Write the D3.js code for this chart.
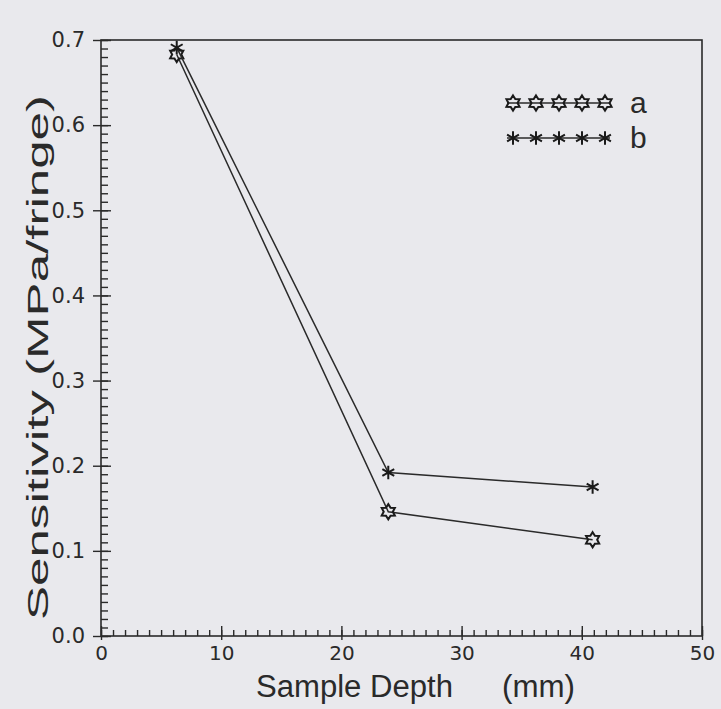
<!DOCTYPE html>
<html>
<head>
<meta charset="utf-8">
<script src="https://cdn.jsdelivr.net/npm/d3@7"></script>
<style>
	body { margin: 0; background: #e9e9ed; }
	svg { display: block; }
	text { font-family: 'DejaVu Sans', 'Liberation Sans', sans-serif; fill: #2a2a2a; }
	text.title { font-family: 'Liberation Sans', Arial, sans-serif; }
	.axis path, .axis line { stroke: #2a2a2a; stroke-width: 1.4px; }
	.axis .domain { display: none; }
</style>
</head>
<body>
<svg id="chart"></svg>
<script>
'use strict';
//Chart data.
const depths = [6.3, 23.9, 40.9]; //Sample depth (mm).
const seriesA = [0.683, 0.146, 0.113]; //Sensitivity, series a.
const seriesB = [0.691, 0.192, 0.175]; //Sensitivity, series b.
const seriesNames = ['a', 'b'];
const xTicks = [0, 10, 20, 30, 40, 50];
const yTicks = [0.0, 0.1, 0.2, 0.3, 0.4, 0.5, 0.6, 0.7];

const W = 721, H = 709;
const svg = d3.select('#chart').attr('width', W).attr('height', H);

//Plot frame in pixels.
const pL = 101, pR = 702, pT = 40, pB = 636;
const x = d3.scaleLinear().domain([0, 50]).range([pL, pR]);
const y = d3.scaleLinear().domain([0, 0.7]).range([pB, pT]);

//Minor ticks (inside) on the x axis.
svg.append('g')
	.attr('class', 'axis')
	.attr('transform', `translate(0,${pB})`)
	.call(d3.axisTop(x).tickValues(d3.range(0, 51, 1)).tickSize(6).tickFormat(''));
//Major ticks with labels.
svg.append('g')
	.attr('class', 'axis')
	.attr('transform', `translate(0,${pB})`)
	.call(d3.axisTop(x).tickValues(xTicks).tickSize(10).tickFormat(''));
svg.append('g')
	.attr('class', 'axis xlab')
	.attr('transform', `translate(0,${pB})`)
	.call(d3.axisBottom(x).tickValues(xTicks).tickSize(4).tickPadding(6).tickFormat(d3.format('d')))
	.selectAll('text')
	.style('font-size', '20px');

//Y axis: minor ticks inside, major ticks cross the axis.
svg.append('g')
	.attr('class', 'axis')
	.attr('transform', `translate(${pL},0)`)
	.call(d3.axisRight(y).tickValues(d3.range(0, 71, 1).map(d => d / 100)).tickSize(7).tickFormat(''));
svg.append('g')
	.attr('class', 'axis')
	.attr('transform', `translate(${pL},0)`)
	.call(d3.axisRight(y).tickValues(yTicks).tickSize(10).tickFormat(''));
svg.append('g')
	.attr('class', 'axis ylab')
	.attr('transform', `translate(${pL},0)`)
	.call(d3.axisLeft(y).tickValues(yTicks).tickSize(8).tickPadding(8).tickFormat(d3.format('.1f')))
	.selectAll('text')
	.style('font-size', '21px');

//Frame.
svg.append('rect')
	.attr('x', pL)
	.attr('y', pT)
	.attr('width', pR - pL)
	.attr('height', pB - pT)
	.style('fill', 'none')
	.style('stroke', '#2a2a2a')
	.style('stroke-width', '1.6px');

//Marker shapes: a = six-pointed star outline, b = asterisk.
const starA = {
	draw(ctx, size) {
		const r = Math.sqrt(size) * 0.62, ri = r * 0.6;
		for (let i = 0; i < 12; i++) {
			const ang = -Math.PI / 2 + i * Math.PI / 6;
			const rr = i % 2 ? ri : r;
			const px = rr * Math.cos(ang), py = rr * Math.sin(ang);
			i ? ctx.lineTo(px, py) : ctx.moveTo(px, py);
		}
		ctx.closePath();
	}
};
const asteriskB = {
	draw(ctx, size) {
		const r = Math.sqrt(size) * 0.6;
		for (let i = 0; i < 3; i++) {
			const ang = Math.PI / 2 + i * Math.PI / 3;
			ctx.moveTo(r * Math.cos(ang), r * Math.sin(ang));
			ctx.lineTo(-r * Math.cos(ang), -r * Math.sin(ang));
		}
	}
};
const symA = d3.symbol().type(starA).size(150);
const symB = d3.symbol().type(asteriskB).size(130);

const line = d3.line().x(d => x(d[0])).y(d => y(d[1]));
const series = [
	{ name: seriesNames[0], vals: seriesA, sym: symA },
	{ name: seriesNames[1], vals: seriesB, sym: symB }
];
series.forEach(s => {
	const pts = depths.map((d, i) => [d, s.vals[i]]);
	svg.append('path')
		.attr('d', line(pts))
		.style('fill', 'none')
		.style('stroke', '#2a2a2a')
		.style('stroke-width', '1.5px');
	svg.selectAll(null)
		.data(pts)
		.enter().append('path')
		.attr('transform', d => `translate(${x(d[0])},${y(d[1])})`)
		.attr('d', s.sym)
		.style('fill', 'none')
		.style('stroke', '#1a1a1a')
		.style('stroke-width', '2px');
});

//Legend.
const legX = [507, 610], legY = [103, 138];
series.forEach((s, i) => {
	svg.append('line')
		.attr('x1', legX[0]).attr('x2', legX[1])
		.attr('y1', legY[i]).attr('y2', legY[i])
		.style('stroke', '#2a2a2a')
		.style('stroke-width', '1.5px');
	svg.selectAll(null)
		.data(d3.range(5))
		.enter().append('path')
		.attr('transform', k => `translate(${513 + k * 23},${legY[i]})`)
		.attr('d', s.sym)
		.style('fill', 'none')
		.style('stroke', '#1a1a1a')
		.style('stroke-width', '2px');
	svg.append('text')
		.attr('class', 'title')
		.attr('x', 630)
		.attr('y', legY[i] + 10)
		.style('font-size', '30px')
		.text(s.name);
});

//Axis titles.
svg.append('text')
	.attr('class', 'title')
	.attr('x', 256)
	.attr('y', 697)
	.attr('textLength', 197)
	.attr('lengthAdjust', 'spacingAndGlyphs')
	.style('font-size', '31px')
	.text('Sample Depth');
svg.append('text')
	.attr('class', 'title')
	.attr('x', 502)
	.attr('y', 697)
	.attr('textLength', 73)
	.attr('lengthAdjust', 'spacingAndGlyphs')
	.style('font-size', '31px')
	.text('(mm)');
svg.append('text')
	.attr('class', 'title')
	.attr('transform', 'translate(48,620) rotate(-90)')
	.attr('textLength', 525)
	.attr('lengthAdjust', 'spacingAndGlyphs')
	.style('font-size', '29px')
	.text('Sensitivity  (MPa/fringe)');
</script>
</body>
</html>
